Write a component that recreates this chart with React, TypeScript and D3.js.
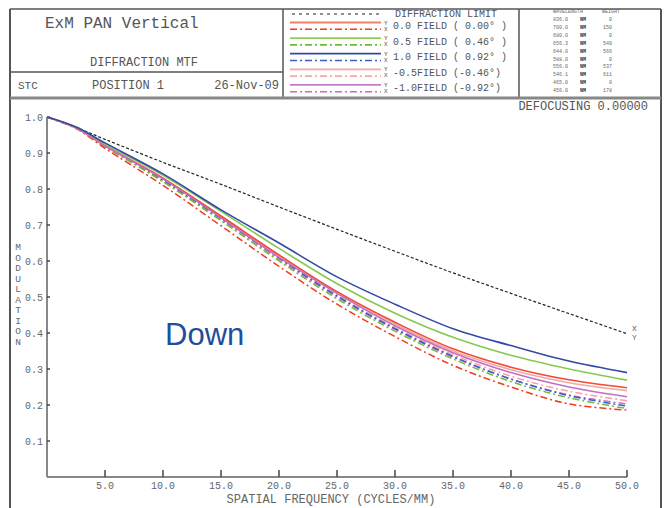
import React from "react";
import * as d3 from "d3";

// spatial frequency samples (cycles/mm)
const freqs = [0, 2.5, 5, 10, 15, 20, 25, 30, 35, 40, 45, 50];

const diffLimit = [1.0, 0.971, 0.938, 0.874, 0.813, 0.75, 0.688, 0.627, 0.567, 0.51, 0.454, 0.398];
const f00Y = [1.0, 0.97, 0.92, 0.83, 0.725, 0.617, 0.515, 0.43, 0.356, 0.305, 0.27, 0.248];
const f00X = [1.0, 0.968, 0.913, 0.81, 0.698, 0.585, 0.48, 0.39, 0.31, 0.25, 0.203, 0.186];
const f05Y = [1.0, 0.972, 0.925, 0.838, 0.738, 0.635, 0.537, 0.455, 0.388, 0.338, 0.3, 0.269];
const f05X = [1.0, 0.97, 0.918, 0.82, 0.712, 0.6, 0.495, 0.405, 0.328, 0.265, 0.22, 0.19];
const f10Y = [1.0, 0.972, 0.928, 0.842, 0.742, 0.65, 0.556, 0.48, 0.412, 0.365, 0.322, 0.29];
const f10X = [1.0, 0.97, 0.92, 0.825, 0.718, 0.608, 0.503, 0.412, 0.335, 0.272, 0.226, 0.197];
const fm05Y = [1.0, 0.97, 0.92, 0.829, 0.722, 0.614, 0.512, 0.425, 0.35, 0.298, 0.262, 0.24];
const fm05X = [1.0, 0.969, 0.918, 0.822, 0.714, 0.606, 0.505, 0.415, 0.34, 0.28, 0.238, 0.212];
const fm10Y = [1.0, 0.97, 0.92, 0.828, 0.72, 0.61, 0.51, 0.42, 0.345, 0.29, 0.25, 0.223];
const fm10X = [1.0, 0.969, 0.918, 0.823, 0.715, 0.604, 0.5, 0.41, 0.333, 0.272, 0.228, 0.203];

const xTicks = [5, 10, 15, 20, 25, 30, 35, 40, 45, 50];
const yTicks = [0.1, 0.2, 0.3, 0.4, 0.5, 0.6, 0.7, 0.8, 0.9, 1.0];

const fieldLabels = [
  "0.0 FIELD ( 0.00\u00b0 )",
  "0.5 FIELD ( 0.46\u00b0 )",
  "1.0 FIELD ( 0.92\u00b0 )",
  "-0.5FIELD (-0.46\u00b0)",
  "-1.0FIELD (-0.92\u00b0)",
];

const wavelengths = ["836.0", "700.0", "680.0", "656.3", "644.0", "588.0", "556.0", "546.1", "465.0", "456.0"];
const weights = ["0", "150", "0", "549", "566", "0", "537", "611", "0", "178"];

const DASHDOT = "7,3,2,3";
const series = [
  { v: diffLimit, color: "#222", dash: "3,2", w: 1.2 },
  { v: fm10X, color: "#c472c8", dash: DASHDOT, w: 1.5 },
  { v: fm05X, color: "#f5a09a", dash: DASHDOT, w: 1.5 },
  { v: f10X, color: "#3c5cc8", dash: DASHDOT, w: 1.5 },
  { v: f05X, color: "#6cbc3c", dash: DASHDOT, w: 1.5 },
  { v: f00X, color: "#f23a1c", dash: DASHDOT, w: 1.5 },
  { v: fm05Y, color: "#f5a8a2", dash: null, w: 1.6 },
  { v: f00Y, color: "#f24a34", dash: null, w: 1.6 },
  { v: fm10Y, color: "#c070c4", dash: null, w: 1.6 },
  { v: f05Y, color: "#86c850", dash: null, w: 1.6 },
  { v: f10Y, color: "#3448a8", dash: null, w: 1.6 },
];

// legend rows: [solid, dash-dot] per field
const legendPairs = [
  ["#f5806a", "#f23a1c"],
  ["#8fcf5a", "#6cbc3c"],
  ["#2f4aa8", "#3c5cc8"],
  ["#f6a5a0", "#f6a8a2"],
  ["#c47cc8", "#c070c4"],
];

const mono = "'Liberation Mono', 'DejaVu Sans Mono', monospace";
const grey = "#666";

export default function App() {
  const width = 669;
  const height = 508;
  const x = d3.scaleLinear().domain([0, 50]).range([47, 627]);
  const y = d3.scaleLinear().domain([0, 1]).range([477, 117]);
  const gen = d3
    .line<number>()
    .x((_, i) => x(freqs[i]))
    .y((d) => y(d))
    .curve(d3.curveCatmullRom.alpha(0.5));

  return (
    <svg width={width} height={height} style={{ position: "absolute", left: 0, top: 0, background: "#fff" }}>
      {/* frame */}
      <g stroke="#555" fill="none">
        <line x1={10} x2={10} y1={9} y2={508} strokeWidth={2} />
        <line x1={661} x2={661} y1={9} y2={508} strokeWidth={2} />
        <line x1={10} x2={661} y1={9} y2={9} strokeWidth={1.5} />
        <line x1={10} x2={283} y1={72} y2={72} strokeWidth={1.5} />
        <line x1={283} x2={283} y1={9} y2={98} strokeWidth={1.5} />
        <line x1={519} x2={519} y1={9} y2={98} strokeWidth={1.5} />
        <line x1={10} x2={661} y1={98} y2={98} stroke="#888" strokeWidth={3} />
      </g>

      {/* header text */}
      <g fontFamily={mono} fill="#555">
        <text x={45} y={28} fontSize={16}>ExM PAN Vertical</text>
        <text x={90} y={66} fontSize={12}>DIFFRACTION MTF</text>
        <text x={18} y={89} fontSize={11}>STC</text>
        <text x={92} y={89} fontSize={12}>POSITION 1</text>
        <text x={279} y={89} fontSize={12} textAnchor="end">26-Nov-09</text>
      </g>

      {/* legend */}
      <g fontFamily={mono} fill="#555">
        <line x1={292} x2={380} y1={14} y2={14} stroke="#222" strokeWidth={1.2} strokeDasharray="3,4" />
        <text x={395} y={17} fontSize={10}>DIFFRACTION LIMIT</text>
        {legendPairs.map((p, i) => {
          const yy = 22.5 + i * 15.6;
          return (
            <g key={i}>
              <line x1={290} x2={381} y1={yy} y2={yy} stroke={p[0]} strokeWidth={1.8} />
              <line x1={290} x2={381} y1={yy + 6.8} y2={yy + 6.8} stroke={p[1]} strokeWidth={1.6} strokeDasharray={DASHDOT} />
              <text x={384} y={yy + 2} fontSize={6}>Y</text>
              <text x={384} y={yy + 8} fontSize={6}>X</text>
              <text x={393} y={yy + 6.5} fontSize={10}>{fieldLabels[i]}</text>
            </g>
          );
        })}
      </g>

      {/* wavelength table */}
      <g fontFamily={mono} fontSize={5} fill="#666">
        <text x={553} y={13}>WAVELENGTH</text>
        <text x={602} y={13}>WEIGHT</text>
        {wavelengths.map((w, i) => (
          <g key={w}>
            <text x={553} y={21 + i * 7.9}>{w}</text>
            <text x={580} y={21 + i * 7.9} fontWeight="bold" fill="#333">NM</text>
            <text x={612} y={21 + i * 7.9} textAnchor="end">{weights[i]}</text>
          </g>
        ))}
      </g>

      <text x={648} y={110} fontFamily={mono} fontSize={12} fill="#555" textAnchor="end">
        DEFOCUSING 0.00000
      </text>

      {/* axes */}
      <g stroke="#888" strokeWidth={2} fill="none">
        <line x1={x(0)} x2={x(0)} y1={y(1)} y2={y(0)} />
        <line x1={x(0)} x2={x(50)} y1={y(0)} y2={y(0)} />
        {xTicks.map((t) => (
          <line key={t} x1={x(t)} x2={x(t)} y1={y(0)} y2={y(0) - 7} stroke="#444" strokeWidth={1.5} />
        ))}
        {yTicks.map((t) => (
          <line key={t} x1={x(0)} x2={x(0) + 3} y1={y(t)} y2={y(t)} stroke="#444" strokeWidth={1.5} />
        ))}
      </g>
      <g fontFamily={mono} fontSize={10} fill={grey}>
        {xTicks.map((t) => (
          <text key={t} x={x(t)} y={489} textAnchor="middle">{t.toFixed(1)}</text>
        ))}
        {yTicks.map((t) => (
          <text key={t} x={43} y={y(t) + 3.5} textAnchor="end">{t.toFixed(1)}</text>
        ))}
        <text x={331} y={503} fontSize={12} textAnchor="middle">SPATIAL FREQUENCY (CYCLES/MM)</text>
        {"MODULATION".split("").map((c, i) => (
          <text key={i} x={18} y={250 + i * 10.5} fontSize={9.5} textAnchor="middle">{c}</text>
        ))}
        <text x={632} y={331} fontSize={8}>X</text>
        <text x={632} y={340} fontSize={8}>Y</text>
      </g>

      {/* curves */}
      <g fill="none">
        {series.map((s, i) => (
          <path
            key={i}
            d={gen(s.v) || ""}
            stroke={s.color}
            strokeWidth={s.w}
            strokeDasharray={s.dash || undefined}
          />
        ))}
      </g>

      <text x={165} y={345} fontFamily="'Liberation Sans', Arial, sans-serif" fontSize={31} fill="#1f4e9c">
        Down
      </text>
    </svg>
  );
}
